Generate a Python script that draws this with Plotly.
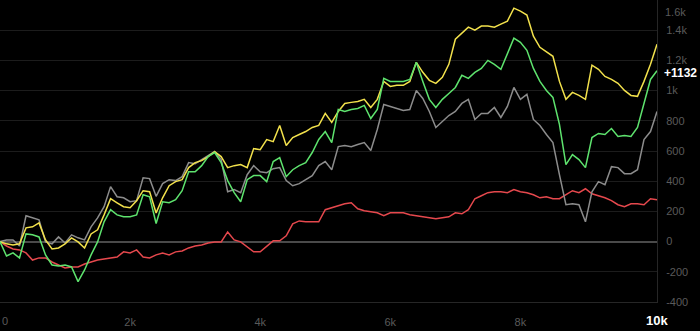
import plotly.graph_objects as go

# x positions (trade count), one sample every 100
steps = [i * 100 for i in range(102)]

red_vals = [0, -29, -49, -55, -75, -122, -108, -108, -135, -155,
            -175, -168, -168, -148, -135, -122, -115, -108, -102, -68,
            -75, -55, -102, -108, -88, -75, -88, -68, -62, -42,
            -29, -22, -9, -2, -2, 64, 11, -2, -35, -68,
            -68, -29, 5, 5, 38, 118, 137, 131, 131, 131,
            211, 224, 237, 250, 257, 217, 204, 197, 191, 171,
            191, 191, 191, 178, 171, 164, 158, 151, 158, 164,
            191, 184, 211, 284, 304, 324, 330, 330, 324, 344,
            330, 324, 310, 290, 297, 284, 284, 310, 337, 324,
            350, 317, 304, 290, 271, 244, 231, 250, 250, 244,
            284, 277]

gray_vals = [0, 11, 11, -29, 171, 157, 144, -2, -15, 31,
             -9, 45, 25, 11, 98, 157, 231, 364, 297, 290,
             264, 271, 423, 417, 300, 384, 410, 404, 430, 523,
             516, 543, 569, 596, 543, 330, 344, 324, 443, 503,
             463, 456, 483, 490, 404, 370, 384, 410, 437, 503,
             530, 476, 629, 636, 629, 643, 656, 603, 742, 908,
             895, 882, 869, 875, 1001, 948, 862, 756, 795, 835,
             862, 915, 942, 809, 849, 849, 888, 822, 895, 1021,
             942, 975, 809, 769, 709, 656, 443, 244, 250, 244,
             131, 330, 397, 377, 496, 490, 450, 450, 476, 676,
             729, 862]

yellow_vals = [0, -15, -22, -15, 91, 98, 124, 11, -49, -42,
               -15, 25, -2, -42, 51, 78, 177, 284, 257, 231,
               224, 271, 337, 330, 190, 290, 370, 397, 410, 490,
               523, 536, 563, 596, 563, 490, 503, 510, 490, 616,
               609, 676, 662, 769, 636, 689, 709, 729, 756, 769,
               849, 789, 862, 915, 922, 928, 942, 888, 942, 1061,
               1028, 1035, 1035, 1061, 1187, 1121, 1068, 1048, 1088, 1174,
               1340, 1380, 1420, 1400, 1427, 1427, 1420, 1440, 1460, 1546,
               1526, 1500, 1360, 1287, 1254, 1227, 1061, 942, 988, 968,
               942, 1168, 1141, 1094, 1074, 1048, 1001, 968, 962, 1061,
               1174, 1307]

green_vals = [0, -95, -75, -108, 51, 45, 31, -88, -155, -161,
              -155, -168, -265, -188, -88, -2, 131, 211, 177, 164,
              164, 177, 310, 297, 120, 264, 257, 277, 337, 463,
              463, 503, 563, 590, 523, 404, 324, 264, 410, 437,
              437, 397, 530, 556, 430, 476, 503, 523, 590, 676,
              729, 656, 875, 862, 875, 882, 902, 815, 875, 1081,
              1061, 1061, 1061, 1074, 1187, 1061, 942, 888, 942, 981,
              1021, 1101, 1081, 1121, 1147, 1200, 1174, 1141, 1241, 1347,
              1320, 1267, 1147, 1061, 1001, 955, 776, 510, 576, 543,
              490, 689, 716, 709, 749, 696, 703, 696, 756, 915,
              1074, 1132]

y_tick_vals = [-400, -200, 0, 200, 400, 600, 800, 1000, 1200, 1400]
y_tick_text = ["-400", "-200", "0", "200", "400", "600", "800", "1k", "1.2k", "1.4k"]
x_tick_vals = [2000, 4000, 6000, 8000]
x_tick_text = ["2k", "4k", "6k", "8k"]

series = [
    ("red", red_vals, "#e5484d"),
    ("gray", gray_vals, "#8c8c8c"),
    ("yellow", yellow_vals, "#f2e14c"),
    ("green", green_vals, "#5ee36e"),
]

fig = go.Figure()
for name, vals, color in series:
    fig.add_trace(go.Scatter(x=steps, y=vals, mode="lines", name=name,
                             line=dict(color=color, width=1.5), hoverinfo="skip"))

tick_font = dict(family="Liberation Sans, Arial, sans-serif", size=11, color="#5a5a5a")

fig.update_layout(
    width=700, height=331,
    margin=dict(l=0, r=43, t=0, b=29),
    paper_bgcolor="#000000", plot_bgcolor="#000000",
    showlegend=False,
    font=tick_font,
    xaxis=dict(range=[0, steps[-1]], showgrid=False, zeroline=False,
               tickvals=x_tick_vals, ticktext=x_tick_text, tickfont=tick_font,
               showline=True, linecolor="#262626", linewidth=1, ticks="",
               ticklabelstandoff=10),
    yaxis=dict(side="right", range=[-400, 1600], tickvals=y_tick_vals, ticktext=y_tick_text,
               tickfont=tick_font, gridcolor="#1c1c1c", gridwidth=1,
               zeroline=True, zerolinecolor="#4a4a4a", zerolinewidth=1.5,
               showline=True, linecolor="#262626", linewidth=1, ticks="",
               ticklabelstandoff=6),
    annotations=[
        dict(text="1.6k", xref="paper", x=1, xanchor="left", xshift=6,
             yref="y", y=1600, yanchor="top", yshift=-4, showarrow=False, font=tick_font),
        dict(text="0", xref="x", x=0, xanchor="left", yref="paper", y=0, yanchor="top",
             yshift=-11, showarrow=False, font=tick_font),
        dict(text="<b>10k</b>", xref="x", x=steps[-1], xanchor="center", yref="paper", y=0,
             yanchor="top", yshift=-9, showarrow=False,
             font=dict(family="Liberation Sans, Arial, sans-serif", size=13, color="#ffffff")),
        dict(text="<b>+" + str(green_vals[-1]) + "</b>", xref="paper", x=1, xanchor="left", xshift=5,
             yref="y", y=green_vals[-1], yanchor="middle", yshift=-2, showarrow=False,
             font=dict(family="Liberation Sans, Arial, sans-serif", size=12, color="#ffffff")),
    ],
)

fig.write_html("out.html")
